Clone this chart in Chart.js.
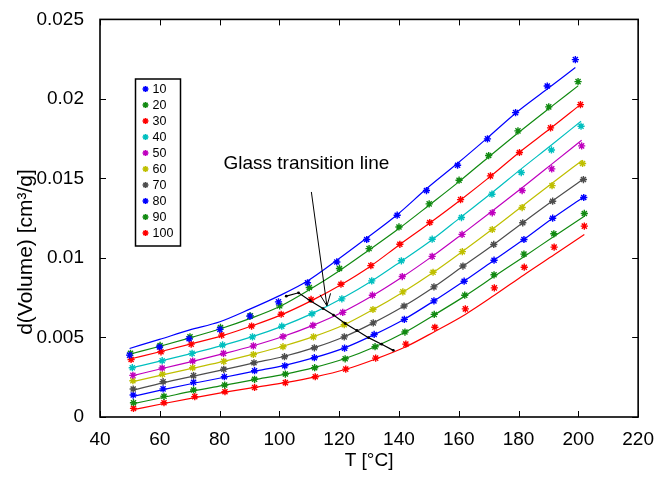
<!DOCTYPE html>
<html>
<head>
<meta charset="utf-8">
<script src="https://cdn.jsdelivr.net/npm/chart.js@4.4.1/dist/chart.umd.min.js"></script>
<style>
  body { margin: 0; background: #fff; }
  #wrap { width: 657px; height: 477px; }
</style>
</head>
<body>
<div id="wrap"><canvas id="volChart" width="657" height="477"></canvas></div>
<script>
// d(Volume) values are in 1e-3 cm3/g, tick labels convert back

const seriesNames = ['10', '20', '30', '40', '50', '60', '70', '80', '90', '100'];
const seriesColors = ['#0000ff', '#118a11', '#ff0000', '#00bfbf', '#bf00bf',
                      '#bfbf00', '#4d4d4d', '#0000ff', '#118a11', '#ff0000'];

const xTicks = [40, 60, 80, 100, 120, 140, 160, 180, 200, 220];
const yTicks = [0, 5, 10, 15, 20, 25];

// measured temperatures per series
const t10  = [49.9, 59.9, 69.8, 80.1, 90.1, 99.7, 109.4, 119.2, 129.2, 139.4, 149.2, 159.6, 169.6, 179.0, 189.6, 199.0];
const t20  = [50.2, 60.1, 70.1, 80.3, 90.3, 100.1, 110.0, 120.1, 130.0, 140.0, 150.1, 160.1, 170.0, 179.8, 190.1, 199.9];
const t30  = [50.4, 60.4, 70.5, 80.7, 90.7, 100.6, 110.6, 120.6, 130.6, 140.3, 150.3, 160.6, 170.6, 180.3, 190.7, 200.7];
const t40  = [50.8, 60.8, 70.8, 81.0, 91.0, 100.8, 110.9, 120.9, 130.9, 140.8, 151.1, 160.9, 171.1, 180.9, 191.0, 200.9];
const t50  = [51.0, 60.8, 71.0, 81.3, 91.3, 101.2, 111.2, 121.2, 131.1, 141.1, 151.1, 161.1, 171.2, 181.2, 191.1, 201.1];
const t60  = [51.0, 60.9, 71.0, 81.4, 91.3, 101.2, 111.4, 121.7, 131.3, 141.3, 151.4, 161.2, 171.2, 181.2, 191.2, 201.4];
const t70  = [51.1, 61.1, 71.3, 81.4, 91.5, 101.7, 111.7, 121.7, 131.4, 141.7, 151.7, 161.4, 171.7, 181.4, 191.4, 201.7];
const t80  = [51.1, 61.1, 71.3, 81.6, 91.7, 101.8, 111.7, 121.8, 131.7, 141.8, 151.7, 161.8, 171.8, 181.8, 191.4, 201.8];
const t90  = [51.2, 61.4, 71.3, 81.7, 91.7, 102.0, 111.8, 122.0, 132.0, 142.0, 151.8, 162.0, 171.8, 181.8, 191.8, 202.0];
const t100 = [51.2, 61.4, 71.7, 81.8, 91.7, 102.0, 112.0, 122.2, 132.2, 142.3, 152.0, 162.2, 171.9, 181.9, 191.9, 202.0];

// measured points
const d10  = [3.89, 4.40, 4.92, 5.51, 6.34, 7.24, 8.44, 9.75, 11.16, 12.69, 14.24, 15.83, 17.49, 19.14, 20.81, 22.47];
const d20  = [4.00, 4.50, 5.04, 5.63, 6.36, 6.99, 8.14, 9.34, 10.59, 11.95, 13.40, 14.89, 16.44, 17.99, 19.50, 21.09];
const d30  = [3.62, 4.10, 4.58, 5.15, 5.72, 6.46, 7.39, 8.35, 9.52, 10.86, 12.23, 13.67, 15.16, 16.63, 18.18, 19.64];
const d40  = [3.10, 3.54, 4.00, 4.53, 5.04, 5.71, 6.49, 7.43, 8.56, 9.82, 11.18, 12.54, 14.01, 15.37, 16.79, 18.28];
const d50  = [2.62, 3.08, 3.52, 4.00, 4.47, 5.06, 5.76, 6.58, 7.66, 8.83, 10.10, 11.48, 12.84, 14.24, 15.60, 17.05];
const d60  = [2.28, 2.69, 3.10, 3.50, 3.93, 4.42, 5.04, 5.80, 6.76, 7.87, 9.10, 10.40, 11.79, 13.17, 14.55, 15.94];
const d70  = [1.76, 2.22, 2.60, 3.00, 3.41, 3.79, 4.35, 5.04, 5.92, 6.98, 8.18, 9.49, 10.85, 12.21, 13.57, 14.93];
const d80  = [1.38, 1.77, 2.18, 2.53, 2.91, 3.22, 3.73, 4.33, 5.19, 6.14, 7.30, 8.54, 9.86, 11.16, 12.50, 13.80];
const d90  = [0.90, 1.30, 1.70, 2.01, 2.37, 2.70, 3.10, 3.66, 4.42, 5.34, 6.45, 7.66, 8.94, 10.24, 11.52, 12.80];
const d100 = [0.54, 0.90, 1.28, 1.59, 1.86, 2.16, 2.53, 3.01, 3.70, 4.58, 5.64, 6.80, 8.12, 9.42, 10.68, 12.00];

// fitted curves
const f10  = [4.31, 4.88, 5.46, 5.99, 6.78, 7.60, 8.55, 9.85, 11.25, 12.72, 14.35, 15.95, 17.55, 19.10, 20.62, 21.97];
const f20  = [3.96, 4.45, 4.98, 5.55, 6.20, 6.95, 8.00, 9.20, 10.50, 11.85, 13.32, 14.80, 16.35, 17.86, 19.39, 20.82];
const f30  = [3.66, 4.12, 4.60, 5.10, 5.72, 6.42, 7.30, 8.32, 9.50, 10.85, 12.20, 13.65, 15.13, 16.65, 18.15, 19.64];
const f40  = [3.10, 3.54, 4.00, 4.50, 5.05, 5.70, 6.50, 7.45, 8.55, 9.80, 11.15, 12.60, 14.10, 15.60, 17.10, 18.60];
const f50  = [2.60, 3.05, 3.50, 3.98, 4.48, 5.06, 5.76, 6.60, 7.62, 8.80, 10.10, 11.50, 12.95, 14.42, 15.90, 17.40];
const f60  = [2.22, 2.65, 3.07, 3.50, 3.95, 4.45, 5.05, 5.80, 6.75, 7.85, 9.08, 10.40, 11.80, 13.25, 14.70, 16.15];
const f70  = [1.70, 2.15, 2.57, 2.98, 3.40, 3.82, 4.36, 5.05, 5.92, 6.98, 8.18, 9.48, 10.85, 12.22, 13.60, 14.97];
const f80  = [1.30, 1.72, 2.12, 2.50, 2.88, 3.25, 3.73, 4.35, 5.18, 6.15, 7.30, 8.55, 9.86, 11.17, 12.50, 13.84];
const f90  = [0.84, 1.24, 1.64, 2.00, 2.35, 2.70, 3.12, 3.68, 4.42, 5.33, 6.42, 7.60, 8.83, 10.08, 11.35, 12.63];
const f100 = [0.46, 0.85, 1.22, 1.56, 1.86, 2.16, 2.52, 3.00, 3.65, 4.42, 5.38, 6.45, 7.65, 8.95, 10.20, 11.47];

// glass transition line
const tgTemps  = [102.3, 106.4, 110.3, 114.6, 118.1, 122.0, 125.9, 129.8, 134.2, 138.1];
const tgValues = [7.60, 7.81, 7.31, 6.82, 6.41, 5.88, 5.44, 4.99, 4.58, 4.19];

// annotation text and arrow (data units)
const noteText = 'Glass transition line';
const notePos = [81.3, 15.9];
const arrowFrom = [110.7, 14.15];
const arrowTo = [115.9, 6.99];

const temps = [t10, t20, t30, t40, t50, t60, t70, t80, t90, t100];
const points = [d10, d20, d30, d40, d50, d60, d70, d80, d90, d100];
const fits = [f10, f20, f30, f40, f50, f60, f70, f80, f90, f100];

const FONT = "'Liberation Sans', Arial, sans-serif";
Chart.defaults.font.family = FONT;
Chart.defaults.color = '#000';

const datasets = [];
seriesNames.forEach((name, i) => {
    datasets.push({
        label: name + ' fit',
        data: fits[i].map((v, j) => ({ x: temps[i][j], y: v })),
        showLine: true,
        borderColor: seriesColors[i],
        borderWidth: 1.2,
        pointRadius: 0,
        cubicInterpolationMode: 'monotone',
        order: 3
    });
});
seriesNames.forEach((name, i) => {
    datasets.push({
        label: name,
        data: points[i].map((v, j) => ({ x: temps[i][j], y: v })),
        showLine: false,
        pointStyle: 'star',
        pointRadius: 3.6,
        borderWidth: 1.4,
        borderColor: seriesColors[i],
        backgroundColor: seriesColors[i],
        order: 2
    });
});
datasets.push({
    label: 'Tg',
    data: tgTemps.map((t, j) => ({ x: t, y: tgValues[j] })),
    showLine: true,
    borderColor: '#000',
    borderWidth: 1.2,
    pointRadius: 1.4,
    pointBackgroundColor: '#000',
    pointBorderWidth: 0,
    tension: 0,
    order: 1
});

// box, inward ticks, axis titles, legend and arrow
const decor = {
    id: 'decor',
    afterDraw(chart) {
        const { ctx, chartArea: a, scales: { x, y } } = chart;
        ctx.save();
        ctx.strokeStyle = '#000';
        ctx.lineWidth = 1;
        ctx.beginPath();
        x.ticks.forEach(t => {
            const px = Math.round(x.getPixelForValue(t.value)) + 0.5;
            ctx.moveTo(px, a.bottom); ctx.lineTo(px, a.bottom - 6);
            ctx.moveTo(px, a.top); ctx.lineTo(px, a.top + 6);
        });
        y.ticks.forEach(t => {
            const py = Math.round(y.getPixelForValue(t.value)) + 0.5;
            ctx.moveTo(a.left, py); ctx.lineTo(a.left + 6, py);
            ctx.moveTo(a.right, py); ctx.lineTo(a.right - 6, py);
        });
        ctx.stroke();
        ctx.lineWidth = 1.6;
        ctx.strokeRect(a.left, a.top, a.right - a.left, a.bottom - a.top);

        // axis titles
        ctx.fillStyle = '#000';
        ctx.font = '19px ' + FONT;
        ctx.textAlign = 'center';
        ctx.textBaseline = 'middle';
        ctx.fillText('T [°C]', (a.left + a.right) / 2, 461);
        ctx.save();
        ctx.translate(26, 252);
        ctx.rotate(-Math.PI / 2);
        ctx.font = '21px ' + FONT;
        ctx.fillText('d(Volume) [cm³/g]', 0, 0);
        ctx.restore();

        // annotation
        ctx.textAlign = 'left';
        ctx.font = '19px ' + FONT;
        ctx.fillText(noteText, x.getPixelForValue(notePos[0]), y.getPixelForValue(notePos[1]));
        const x0 = x.getPixelForValue(arrowFrom[0]), y0 = y.getPixelForValue(arrowFrom[1]);
        const x1 = x.getPixelForValue(arrowTo[0]), y1 = y.getPixelForValue(arrowTo[1]);
        const ang = Math.atan2(y1 - y0, x1 - x0);
        ctx.lineWidth = 1;
        ctx.beginPath();
        ctx.moveTo(x0, y0); ctx.lineTo(x1, y1);
        [-0.42, 0.42].forEach(d => {
            ctx.moveTo(x1, y1);
            ctx.lineTo(x1 - 13 * Math.cos(ang + d), y1 - 13 * Math.sin(ang + d));
        });
        ctx.stroke();

        // legend
        const lx = 135.5, ly = 79, lw = 45, lh = 167;
        ctx.fillStyle = '#fff';
        ctx.fillRect(lx, ly, lw, lh);
        ctx.lineWidth = 1.5;
        ctx.strokeStyle = '#000';
        ctx.strokeRect(lx, ly, lw, lh);
        ctx.font = '12.5px ' + FONT;
        ctx.textBaseline = 'middle';
        seriesNames.forEach((name, i) => {
            const cy = ly + 10 + i * 16;
            ctx.strokeStyle = seriesColors[i];
            ctx.fillStyle = seriesColors[i];
            Chart.helpers.drawPoint(ctx, { pointStyle: 'star', radius: 3, borderWidth: 1.3 }, lx + 10, cy);
            ctx.fillStyle = '#000';
            ctx.fillText(name, lx + 17, cy + 0.5);
        });
        ctx.restore();
    }
};

new Chart(document.getElementById('volChart'), {
    type: 'scatter',
    data: { datasets: datasets },
    options: {
        responsive: false,
        animation: false,
        layout: { padding: { top: 19, right: 17, left: 0, bottom: 0 } },
        scales: {
            x: {
                type: 'linear',
                min: 40,
                max: 220,
                afterBuildTicks: s => { s.ticks = xTicks.map(v => ({ value: v })); },
                afterFit: s => { s.height = 60; },
                grid: { display: false },
                border: { display: false },
                ticks: { font: { size: 19 }, padding: 3, maxRotation: 0, color: '#000' }
            },
            y: {
                type: 'linear',
                min: 0,
                max: 25,
                afterBuildTicks: s => { s.ticks = yTicks.map(v => ({ value: v })); },
                afterFit: s => { s.width = 100; },
                grid: { display: false },
                border: { display: false },
                ticks: {
                    font: { size: 19 },
                    padding: 8,
                    color: '#000',
                    callback: v => String(+(v / 1000).toFixed(3))
                }
            }
        },
        plugins: {
            legend: { display: false },
            tooltip: { enabled: false }
        }
    },
    plugins: [decor]
});
</script>
</body>
</html>
